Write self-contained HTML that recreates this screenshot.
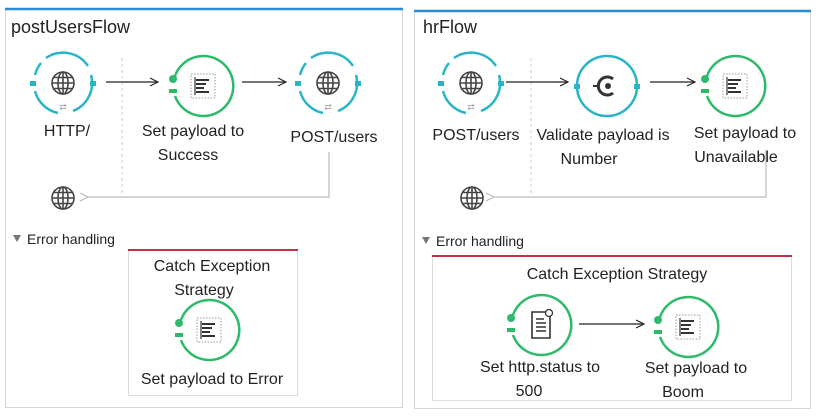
<!DOCTYPE html>
<html><head><meta charset="utf-8"><style>
html,body{margin:0;padding:0;background:#fff;}
svg{display:block;font-family:"Liberation Sans",Arial,sans-serif;}
</style></head><body>
<svg width="818" height="416" viewBox="0 0 818 416" xmlns="http://www.w3.org/2000/svg">
<defs>
<marker id="ar" markerWidth="10" markerHeight="10" refX="9" refY="5" orient="auto" markerUnits="userSpaceOnUse"><path d="M1,1 L9,5 L1,9" fill="none" stroke="#222" stroke-width="1.2"/></marker>
<marker id="arg" markerWidth="10" markerHeight="10" refX="1" refY="5" orient="auto" markerUnits="userSpaceOnUse"><path d="M9,1 L1,5 L9,9" fill="none" stroke="#bbb" stroke-width="1.2"/></marker>
<g id="globe" fill="none" stroke="#444" stroke-width="1.6"><circle r="11"/><ellipse rx="5" ry="11"/><line x1="-11" y1="0" x2="11" y2="0"/><line x1="-9" y1="-5.5" x2="9" y2="-5.5"/><line x1="-9" y1="5.5" x2="9" y2="5.5"/><line x1="0" y1="-11" x2="0" y2="11"/></g>
<g id="http"><path d="M-17,-25 A30,30 0 0 1 25,-17" fill="none" stroke="#2ab4c8" stroke-width="2.5"/><path d="M28,-8 A30,30 0 0 1 10,28" fill="none" stroke="#2ab4c8" stroke-width="2.5"/><path d="M-5,30 A30,30 0 0 1 -28,8" fill="none" stroke="#2ab4c8" stroke-width="2.5"/><path d="M-28,-8 A30,30 0 0 1 -22,-20" fill="none" stroke="#2ab4c8" stroke-width="2.5"/><rect x="-33" y="-2" width="6" height="5" fill="#2ab4c8"/><rect x="27" y="-2" width="6" height="5" fill="#2ab4c8"/><use href="#globe"/><text x="0" y="27" font-size="9" fill="#aaa" text-anchor="middle">⇄</text></g>
<g id="setp"><path d="M-28,-10 A30,30 0 1 1 -28,10" fill="none" stroke="#2dba6a" stroke-width="2.5"/><circle cx="-30" cy="-7" r="4" fill="#2dba6a"/><rect x="-34" y="3" width="8" height="4" fill="#2dba6a"/><rect x="-12" y="-12" width="24" height="24" fill="none" stroke="#999" stroke-width="1" stroke-dasharray="1.5,1.5"/><g stroke="#333" stroke-width="2"><line x1="-7" y1="-6" x2="6" y2="-6"/><line x1="-7" y1="-2" x2="3" y2="-2"/><line x1="-7" y1="2" x2="1" y2="2"/><line x1="-7" y1="6" x2="6" y2="6"/></g><line x1="-8" y1="-9" x2="-8" y2="9" stroke="#333" stroke-width="1.2"/></g>
</defs>

<rect x="5.5" y="9.5" width="397" height="398" fill="#fff" stroke="#d6d6d6"/>
<line x1="5" y1="9" x2="403" y2="9" stroke="#2a8ad4" stroke-width="2.5"/>
<text x="11" y="33" font-size="18" fill="#222">postUsersFlow</text>
<line x1="122" y1="58" x2="122" y2="195" stroke="#ccc" stroke-dasharray="3,3"/>
<use href="#http" x="63" y="83"/>
<use href="#setp" x="203" y="86"/>
<use href="#http" x="328" y="83"/>
<line x1="106" y1="82" x2="158" y2="82" stroke="#222" stroke-width="1.3" marker-end="url(#ar)"/>
<line x1="242" y1="82" x2="286" y2="82" stroke="#222" stroke-width="1.3" marker-end="url(#ar)"/>
<path d="M329,152 V197 H88" fill="none" stroke="#bbb" stroke-width="1.2" marker-end="url(#arg)"/>
<use href="#globe" x="63" y="198"/>
<text x="67" y="136" font-size="16" fill="#222" text-anchor="middle">HTTP/</text>
<text x="193" y="136" font-size="16" fill="#222" text-anchor="middle">Set payload to</text>
<text x="188" y="160" font-size="16" fill="#222" text-anchor="middle">Success</text>
<text x="334" y="142" font-size="16" fill="#222" text-anchor="middle">POST/users</text>
<path d="M13,235 L21,235 L17,242 Z" fill="#777"/>
<text x="27" y="244" font-size="14" fill="#222">Error handling</text>
<rect x="128.5" y="250.5" width="169" height="145" fill="#fff" stroke="#ddd"/>
<line x1="128" y1="250" x2="298" y2="250" stroke="#c8304a" stroke-width="2"/>
<text x="212" y="271" font-size="16" fill="#222" text-anchor="middle">Catch Exception</text>
<text x="204" y="295" font-size="16" fill="#222" text-anchor="middle">Strategy</text>
<use href="#setp" x="209" y="330"/>
<text x="212" y="384" font-size="16" fill="#222" text-anchor="middle">Set payload to Error</text>

<rect x="414.5" y="11.5" width="396" height="397" fill="#fff" stroke="#d6d6d6"/>
<line x1="414" y1="11" x2="811" y2="11" stroke="#2a8ad4" stroke-width="2.5"/>
<text x="423" y="33" font-size="18" fill="#222">hrFlow</text>
<line x1="531" y1="58" x2="531" y2="195" stroke="#ccc" stroke-dasharray="3,3"/>
<use href="#http" x="471" y="83"/>
<g transform="translate(607,86)"><circle r="30" fill="none" stroke="#2ab4c8" stroke-width="2.5"/><rect x="-33" y="-2" width="6" height="5" fill="#2ab4c8"/><rect x="27" y="-2" width="6" height="5" fill="#2ab4c8"/><path d="M6,-7 A9,9 0 1 0 6,7" fill="none" stroke="#333" stroke-width="3"/><circle cx="1" cy="0" r="3" fill="#333"/><line x1="-14" y1="0" x2="-9" y2="0" stroke="#333" stroke-width="2"/></g>
<use href="#setp" x="735" y="86"/>
<line x1="506" y1="82" x2="568" y2="82" stroke="#222" stroke-width="1.3" marker-end="url(#ar)"/>
<line x1="650" y1="82" x2="695" y2="82" stroke="#222" stroke-width="1.3" marker-end="url(#ar)"/>
<path d="M766,150 V197 H494" fill="none" stroke="#bbb" stroke-width="1.2" marker-end="url(#arg)"/>
<use href="#globe" x="472" y="198"/>
<text x="476" y="140" font-size="16" fill="#222" text-anchor="middle">POST/users</text>
<text x="603" y="140" font-size="16" fill="#222" text-anchor="middle">Validate payload is</text>
<text x="589" y="164" font-size="16" fill="#222" text-anchor="middle">Number</text>
<text x="745" y="138" font-size="16" fill="#222" text-anchor="middle">Set payload to</text>
<text x="736" y="162" font-size="16" fill="#222" text-anchor="middle">Unavailable</text>
<path d="M422,237 L430,237 L426,244 Z" fill="#777"/>
<text x="436" y="246" font-size="14" fill="#222">Error handling</text>
<rect x="432.5" y="256.5" width="359" height="144" fill="#fff" stroke="#ddd"/>
<line x1="432" y1="256" x2="792" y2="256" stroke="#c8304a" stroke-width="2"/>
<text x="617" y="279" font-size="16" fill="#222" text-anchor="middle">Catch Exception Strategy</text>
<g transform="translate(541,325)"><path d="M-28,-10 A30,30 0 1 1 -28,10" fill="none" stroke="#2dba6a" stroke-width="2.5"/><circle cx="-30" cy="-7" r="4" fill="#2dba6a"/><rect x="-34" y="3" width="8" height="4" fill="#2dba6a"/><path d="M-9,-13 H5 L9,-9 V13 H-9 Z" fill="#fff" stroke="#333" stroke-width="1.6"/><g stroke="#333" stroke-width="1.5"><line x1="-5" y1="-6" x2="3" y2="-6"/><line x1="-5" y1="-2" x2="5" y2="-2"/><line x1="-5" y1="2" x2="5" y2="2"/><line x1="-5" y1="6" x2="5" y2="6"/></g><circle cx="8" cy="-12" r="3.5" fill="#fff" stroke="#333" stroke-width="1.3"/></g>
<line x1="579" y1="324" x2="644" y2="324" stroke="#222" stroke-width="1.3" marker-end="url(#ar)"/>
<use href="#setp" x="688" y="327"/>
<text x="540" y="372" font-size="16" fill="#222" text-anchor="middle">Set http.status to</text>
<text x="529" y="396" font-size="16" fill="#222" text-anchor="middle">500</text>
<text x="696" y="373" font-size="16" fill="#222" text-anchor="middle">Set payload to</text>
<text x="683" y="397" font-size="16" fill="#222" text-anchor="middle">Boom</text>
</svg>
</body></html>
